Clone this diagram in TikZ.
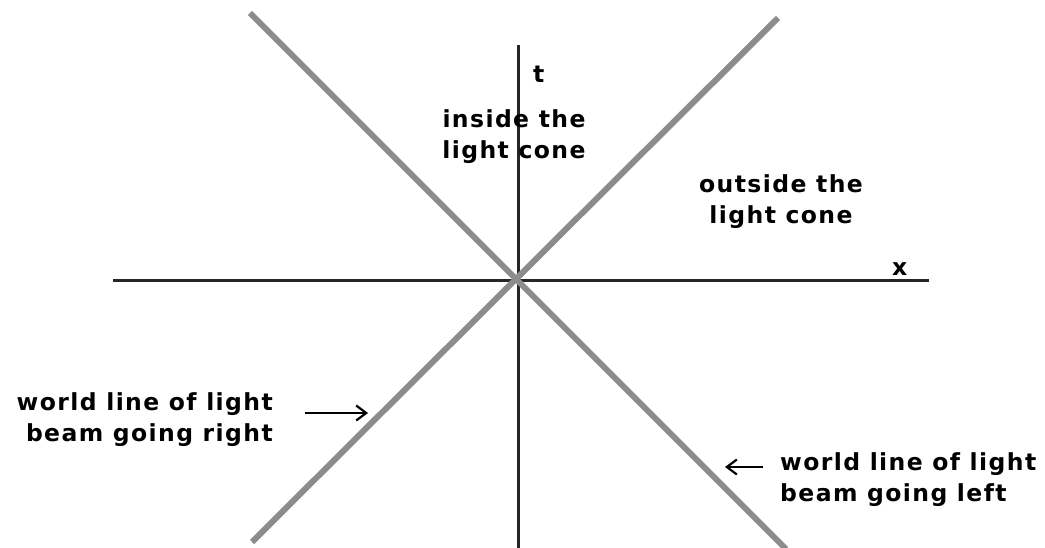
\documentclass[tikz,border=0pt]{standalone}
\usepackage{fontspec}
\setmainfont{Liberation Sans}
\newfontfamily\chifont[LetterSpace=6]{DejaVu Sans}
\usetikzlibrary{arrows.meta}
\begin{document}
\begin{tikzpicture}[x=1pt,y=-1pt,
  axis/.style={line width=3pt,black!85},
  lightline/.style={line width=6pt,black!45},
  lbl/.style={font=\chifont\bfseries\fontsize{23.5}{31}\selectfont,inner sep=0pt},
  pointer/.style={line width=2.2pt,-{Straight Barb[length=10pt,width=15pt,line width=2.2pt]}}]
\useasboundingbox (0,0) rectangle (1045,548);
% axes
\coordinate (o) at (518,281);
\coordinate (tTop) at (518,45);
\coordinate (tBot) at (518,548);
\coordinate (xL) at (113,281);
\coordinate (xR) at (929,281);
\draw[axis] (tTop) -- (tBot);
\draw[axis] (xL) -- (xR);
% light lines
\coordinate (tl) at (250,13);
\coordinate (br) at (786,549);
\coordinate (tr) at (778,18);
\coordinate (bl) at (252,542);
\draw[lightline] (tl) -- (br);
\draw[lightline] (tr) -- (bl);
% labels
\node[lbl,anchor=base west] (t) at (533,83) {t};
\node[lbl,anchor=base west] (x) at (892,276) {x};
\node[lbl,align=center,anchor=north] (inside) at (514,109) {inside the\\light cone};
\node[lbl,align=center,anchor=north] (outside) at (781,174) {outside the\\light cone};
\node[lbl,align=right,anchor=north east] (wlr) at (273,392) {world line of light\\beam going right};
\node[lbl,align=left,anchor=north west] (wll) at (780,452) {world line of light\\beam going left};
% pointers
\coordinate (pr) at (368,413);
\coordinate (pl) at (725,467);
\draw[pointer] (wlr.east |- pr) ++(32,0) coordinate (prs) -- (pr);
\draw[pointer] (wll.west |- pl) ++(-17,0) coordinate (pls) -- (pl);
\end{tikzpicture}
\end{document}
